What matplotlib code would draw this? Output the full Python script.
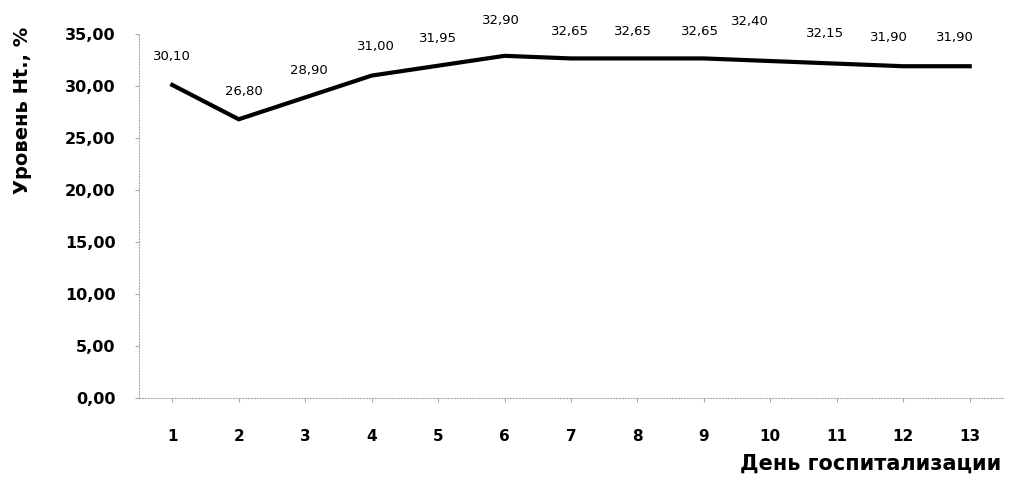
import matplotlib
matplotlib.use("Agg")
import matplotlib.pyplot as plt

# Данные
days = [1, 2, 3, 4, 5, 6, 7, 8, 9, 10, 11, 12, 13]
ht_level = [30.10, 26.80, 28.90, 31.00, 31.95, 32.90, 32.65, 32.65, 32.65,
            32.40, 32.15, 31.90, 31.90]
y_ticks = [0, 5, 10, 15, 20, 25, 30, 35]

# смещения подписей (пиксели), как в исходной диаграмме
label_dx = [0, 5, 4, 4, 0, -4, -1, -4, -4, -20, -12, -14, -15]
label_dy = [28, 28, 27, 29, 27, 35, 27, 27, 27, 40, 30, 29, 29]

fig = plt.figure(figsize=(10.09, 4.94), dpi=100)
ax = fig.add_axes([0.1378, 0.1943, 0.8562, 0.7369])

x = list(range(len(days)))
ax.plot(x, ht_level, color="black", linewidth=3.0, solid_joinstyle="miter")

for xi, v, dx, dy in zip(x, ht_level, label_dx, label_dy):
    ax.annotate(f"{v:.2f}".replace(".", ","), (xi, v),
                xytext=(dx, dy), textcoords="offset pixels",
                ha="center", va="center", fontsize=9.5, color="black")

ax.set_xlim(-0.5, len(days) - 0.5)
ax.set_ylim(0, 35)
ax.set_xticks(x)
ax.set_xticklabels([str(d) for d in days], fontsize=11, fontweight="bold")
ax.set_yticks(y_ticks)
ax.set_yticklabels([f"{t:.2f}".replace(".", ",") for t in y_ticks],
                   fontsize=11.5, fontweight="bold")

for side in ["top", "right"]:
    ax.spines[side].set_visible(False)
for side in ["left", "bottom"]:
    ax.spines[side].set_linestyle(":")
    ax.spines[side].set_color("#aaaaaa")
    ax.spines[side].set_linewidth(0.8)

ax.tick_params(axis="y", length=3, color="#aaaaaa", pad=14)
ax.tick_params(axis="x", length=3, color="#aaaaaa", pad=19)

fig.text(0.022, 0.777, "Уровень Ht., %", rotation=90, ha="center", va="center",
         fontsize=14, fontweight="bold")
fig.text(0.992, 0.062, "День госпитализации", ha="right", va="center",
         fontsize=15, fontweight="bold")

fig.savefig("out.png", dpi=100)
